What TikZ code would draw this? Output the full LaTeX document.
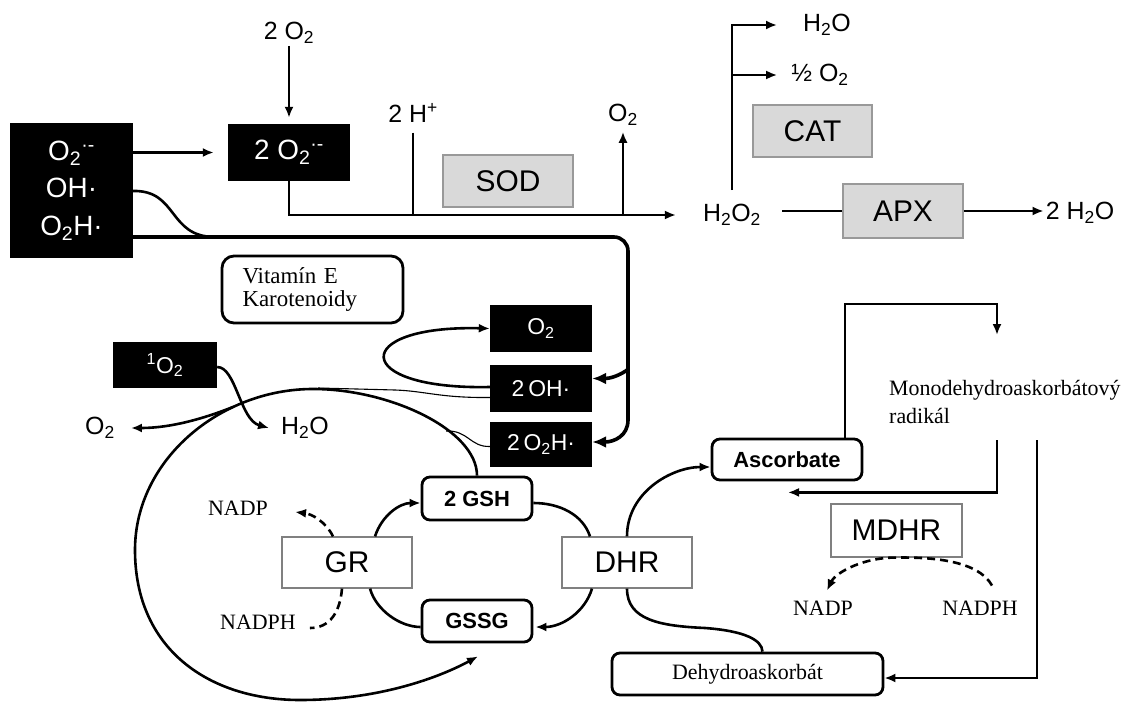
\documentclass[tikz,border=0pt]{standalone}
\usepackage{fontspec}
\setmainfont{Liberation Serif}
\setsansfont{Liberation Sans}
\usetikzlibrary{arrows.meta,calc}
\tikzset{
  >={Latex[length=11bp,width=9bp]},
  main/.style={line width=2.6bp},
  fat/.style={line width=3.6bp, >={Latex[length=14bp,width=12bp]}},
  hair/.style={line width=1.1bp},
  dashline/.style={line width=2.6bp, dash pattern=on 8bp off 5bp},
  rosbox/.style={fill=black, text=white, inner sep=0pt, font=\sffamily\fontsize{23}{26}\selectfont},
  enzgrey/.style={draw=gray!80, fill=gray!30, line width=1.5bp, inner sep=0pt, font=\sffamily\fontsize{30}{32}\selectfont},
  enzwhite/.style={draw=gray, fill=white, line width=1.2bp, inner sep=0pt, font=\sffamily\fontsize{30}{32}\selectfont},
  metab/.style={draw, line width=2.8bp, rounded corners=8bp, inner sep=0pt, font=\sffamily\bfseries\fontsize{22}{24}\selectfont},
  serifbox/.style={draw, line width=2.8bp, rounded corners=12bp, font=\fontsize{23}{23}\selectfont},
  chem/.style={inner sep=2bp, font=\sffamily\fontsize{25}{28}\selectfont},
  cofac/.style={inner sep=2bp, font=\fontsize{22}{24}\selectfont}
}
\begin{document}
\begin{tikzpicture}[x=1bp,y=-1bp]
\useasboundingbox (0,0) rectangle (1133,704);
\node[rosbox, minimum width=123bp, minimum height=135bp, align=center,
  font=\sffamily\fontsize{28}{37.5}\selectfont] (ros) at (71.5,190.5)
  {O\textsubscript{2}\textsuperscript{·-}\\OH·\\O\textsubscript{2}H·};
\node[rosbox, minimum width=122bp, minimum height=57bp,
  font=\sffamily\fontsize{28}{30}\selectfont] (sup2) at (289,152.5) {2 O\textsubscript{2}\textsuperscript{·-}};
\node[chem] (otwo) at (289,33) {2 O\textsubscript{2}};
\node[chem] (hplus) at (413,113) {2 H\textsuperscript{+}};
\node[chem] (otop) at (623,115) {O\textsubscript{2}};
\node[enzgrey, minimum width=130bp, minimum height=52bp] (sod) at (508,181) {SOD};
\node[chem] (h2o2) at (732,215) {H\textsubscript{2}O\textsubscript{2}};
\node[enzgrey, minimum width=119bp, minimum height=52bp] (cat) at (812.5,131) {CAT};
\node[chem] (wtop) at (827,25) {H\textsubscript{2}O};
\node[chem] (half) at (820,75) {½ O\textsubscript{2}};
\node[enzgrey, minimum width=120bp, minimum height=54bp] (apx) at (903,211) {APX};
\node[chem] (wtwo) at (1080,213) {2 H\textsubscript{2}O};
\node[serifbox, minimum width=181bp, minimum height=67bp, text width=140bp, align=left] (vit)
  at (312.5,289.5) {Vitamín E\\Karotenoidy};
\node[rosbox, minimum width=102bp, minimum height=47bp] (oxbox) at (541,328.5) {O\textsubscript{2}};
\node[rosbox, minimum width=102bp, minimum height=47bp] (ohbox) at (541,388.5) {2\,OH·};
\node[rosbox, minimum width=102bp, minimum height=45bp] (ooh) at (541,444.5) {2\,O\textsubscript{2}H·};
\node[rosbox, minimum width=104bp, minimum height=46bp] (singlet) at (165,365) {\textsuperscript{1}O\textsubscript{2}};
\node[chem] (oleft) at (100,428) {O\textsubscript{2}};
\node[chem] (wmid) at (305,428) {H\textsubscript{2}O};
\node[metab, minimum width=110bp, minimum height=43bp] (gsh) at (477,498.5) {2 GSH};
\node[metab, minimum width=110bp, minimum height=42bp] (gssg) at (477,621) {GSSG};
\node[enzwhite, minimum width=130bp, minimum height=51bp] (gr) at (347,562.5) {GR};
\node[enzwhite, minimum width=130bp, minimum height=51bp] (dhr) at (627,562.5) {DHR};
\node[cofac] (nadpa) at (238,508) {NADP};
\node[cofac] (nadpha) at (258,622) {NADPH};
\node[metab, minimum width=150bp, minimum height=41bp] (asc) at (787,459.5) {Ascorbate};
\node[cofac, anchor=west, align=left, font=\fontsize{22}{29}\selectfont] (mono)
  at (887,402) {Monodehydroaskorbátový\\radikál};
\node[enzwhite, minimum width=131bp, minimum height=53bp] (mdhr) at (896.5,530.5) {MDHR};
\node[cofac] (nadpb) at (823,608) {NADP};
\node[cofac] (nadphb) at (980,608) {NADPH};
\node[serifbox, minimum width=271bp, minimum height=42bp, rounded corners=8bp,
  font=\fontsize{22}{24}\selectfont] (dehy) at (747.5,674) {Dehydroaskorbát};
% superoxide dismutation
\draw[main,->,shorten >=6bp] (otwo) -- (sup2);
\draw[main,->,shorten >=14bp] (ros.east |- sup2.west) -- (sup2.west);
\coordinate (sodbend) at (sup2.south |- h2o2.west);
\draw[main,->,shorten >=25bp]
    (sup2.south) -- (sodbend) -- (h2o2.west);
\draw[main,shorten <=8bp] (hplus.south) -- (hplus.south |- sodbend);
\draw[main,->,shorten >=4bp] (otop.south |- sodbend) -- (otop.south);
% catalase and APX
\coordinate (catroot) at ($(h2o2.north)+(0,-12)$);
\draw[main,->,shorten >=24bp] (catroot) |- (wtop.west);
\draw[main,->,shorten >=12bp] (catroot |- half.west) -- (half.west);
\draw[main,shorten <=19bp] (h2o2.east |- apx.west) -- (apx.west);
\draw[main,->] (apx.east) -- (apx.east -| wtwo.west);
% radicals to 2 OH and 2 O2H
\coordinate (rosout) at ($(ros.east)+(0,46.5)$);
\coordinate (fork) at (628,355);
\draw[fat,->,rounded corners=14bp]
    (rosout) -| (fork) [sharp corners] .. controls (628,370) and (615,378.5) .. ($(ohbox.east)+(0,-10)$);
\draw[fat,->]
    (fork) -- (628,420) .. controls (628,436) and (614,442) .. ($(ooh.east)+(0,-2.5)$);
\draw[main] ($(ros.east)+(0,0.5)$) .. controls (178,190) and (168,237) .. (215,237);
\draw[main,->] ($(ohbox.west)+(0,-1.5)$) .. controls (350,390) and (350,325) .. (oxbox.west);
\draw[hair] ($(ohbox.west)+(0,9)$) .. controls (440,398) and (425,391) .. (395,390) -- (318,388);
\draw[hair] ($(ooh.west)+(0,2)$) .. controls (470,447) and (468,430) .. (446,431);
% big loop 2 GSH -> GSSG
\draw[main,->]
    (gsh.north) .. controls (477,430) and (390,389) .. (313,389)
    .. controls (220,389) and (135,460) .. (135,550)
    .. controls (135,650) and (210,700) .. (300,700)
    .. controls (380,700) and (440,677) .. ($(gssg.south)+(1,13)$);
\draw[main,->] (233,407) .. controls (195,422) and (165,428) .. ($(oleft.east)+(14,0)$);
\draw[main,->] ($(singlet.east)+(0,2)$) .. controls (236,367) and (240,420) .. ($(wmid.west)+(-10,0)$);
% glutathione cycle
\draw[main,->] ($(gr.north)+(28,0)$) .. controls (382,515) and (400,503) .. ($(gsh.west)+(0,4.5)$);
\draw[main] ($(gsh.east)+(0,4.5)$) .. controls (560,503) and (583,515) .. ($(dhr.north)+(-37,0)$);
\draw[main,->] ($(dhr.south)+(-35,0)$) .. controls (585,612) and (562,627) .. ($(gssg.east)+(2,6)$);
\draw[main] ($(gr.south)+(23,0)$) .. controls (376,610) and (400,627) .. ($(gssg.west)+(0,6)$);
\draw[dashline,->] ($(gr.north)+(-14,0)$) .. controls (326,522) and (312,514) .. ($(nadpa.east)+(25,4)$);
\draw[dashline] ($(gr.south)+(-5,0)$) .. controls (340,612) and (330,628) .. ($(nadpha.east)+(12,6)$);
% ascorbate cycle
\draw[main,->] (dhr.north) .. controls (627,492) and (672,467) .. ($(asc.west)+(0,7.5)$);
\draw[main] (dhr.south) .. controls (627,620) and (660,626) .. (705,628)
    .. controls (745,631) and (762,640) .. ($(dehy.north)+(15,0)$);
\coordinate (mtop) at (997,335);
\coordinate (mbot) at (997,440);
\coordinate (mfar) at (1037,440);
\draw[main,->] ($(asc.north)+(58,0)$) |- ($(mtop)+(0,-31)$) -- (mtop);
\draw[main,->] (mbot) |- ($(asc.south)+(1,11)$);
\draw[main,->] (mfar) |- ($(dehy.east)+(0,4)$);
\draw[dashline,->] ($(nadphb.north)+(12,-13)$) .. controls (978,560) and (930,557) .. (mdhr.south)
    .. controls (865,557) and (836,572) .. ($(nadpb.north)+(4,-8)$);
\end{tikzpicture}
\end{document}
